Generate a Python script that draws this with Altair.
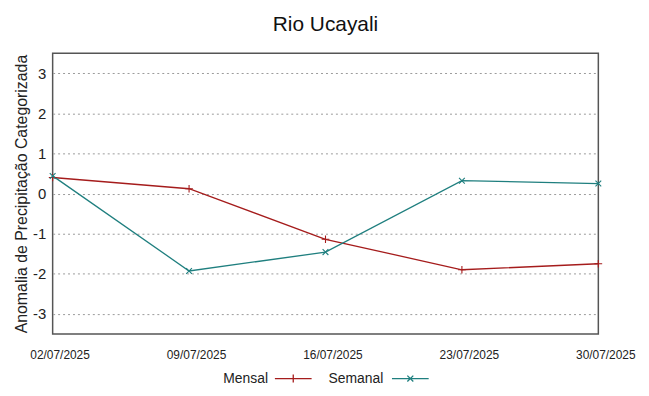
import altair as alt
import pandas as pd

datas = ["02/07/2025", "09/07/2025", "16/07/2025", "23/07/2025", "30/07/2025"]
mensal = [0.40, 0.12, -1.14, -1.90, -1.75]
semanal = [0.44, -1.93, -1.46, 0.32, 0.25]
series = ["Mensal", "Semanal"]
cores = ["#a51c1c", "#1f7f7f"]
y_ticks = [-3, -2, -1, 0, 1, 2, 3]

rows = []
for i, d in enumerate(datas):
    rows.append({"data": d, "serie": "Mensal", "valor": mensal[i]})
for i, d in enumerate(datas):
    rows.append({"data": d, "serie": "Semanal", "valor": semanal[i]})
df = pd.DataFrame(rows)

FONT = "Liberation Sans"

x = alt.X(
    "data:N",
    sort=datas,
    scale=alt.Scale(type="point", padding=0),
    axis=alt.Axis(
        title=None, labelAngle=0, labelFontSize=12, labelColor="#222",
        labelOffset=7, labelPadding=16, ticks=False, domain=False, grid=False,
        labelFont=FONT,
    ),
)
y = alt.Y(
    "valor:Q",
    scale=alt.Scale(domain=[-3.5, 3.5], nice=False, zero=False),
    axis=alt.Axis(
        title="Anomalia de Precipitação Categorizada", values=y_ticks,
        labelExpr="datum.value + ''",
        labelFontSize=15, labelColor="#222", labelPadding=7, ticks=False,
        domain=False, grid=True, gridDash=[2, 3], gridColor="#9a9a9a",
        gridWidth=1, titleFontSize=16, titleFontWeight="normal",
        titleColor="#222", titlePadding=3, labelFont=FONT, titleFont=FONT,
    ),
)

# legend: label first, then a line sample with the marker (drawn right of the label)
leg = alt.Legend(
    title=None, orient="none", direction="horizontal",
    legendX=158, legendY=321, padding=0, gridAlign="each",
    symbolSize=100, symbolStrokeWidth=1.3, symbolOpacity=1,
    labelFontSize=14, labelColor="#222", labelFont=FONT,
    labelOffset=0, columnPadding=0,
)
color = alt.Color("serie:N", scale=alt.Scale(domain=series, range=cores), legend=leg)

base = alt.Chart(df)
linhas = base.mark_line(strokeWidth=1.3).encode(x=x, y=y, color=color)

plus = "M-1,0H1M0,-1V1"
cruz = "M-0.75,-0.75L0.75,0.75M-0.75,0.75L0.75,-0.75"
pm = base.transform_filter(alt.datum.serie == "Mensal").mark_point(
    shape=plus, size=60, filled=False, strokeWidth=1.1, opacity=1
).encode(x=x, y=y, color=color)
ps = base.transform_filter(alt.datum.serie == "Semanal").mark_point(
    shape=cruz, size=60, filled=False, strokeWidth=1.1, opacity=1
).encode(x=x, y=y, color=color)

leg_plus = "M11.8,0H19.2M15.5,-0.8V0.8"
leg_cruz = "M14.2,0H21.6M17.3,-0.6L18.5,0.6M17.3,0.6L18.5,-0.6"
legenda = base.mark_point(filled=False, opacity=0, size=0).encode(
    x=x, y=y,
    color=color,
    shape=alt.Shape("serie:N", scale=alt.Scale(domain=series, range=[leg_plus, leg_cruz]),
                    legend=leg),
)

chart = alt.layer(linhas, pm, ps, legenda).properties(
    width=550, height=283,
    title=alt.Title("Rio Ucayali", fontSize=21, font=FONT, fontWeight="normal",
                    color="#111", offset=18),
).configure(font=FONT).configure_view(stroke="#555", strokeWidth=1.5)

chart.save("out.html", embed_options={"renderer": "svg", "actions": False})
